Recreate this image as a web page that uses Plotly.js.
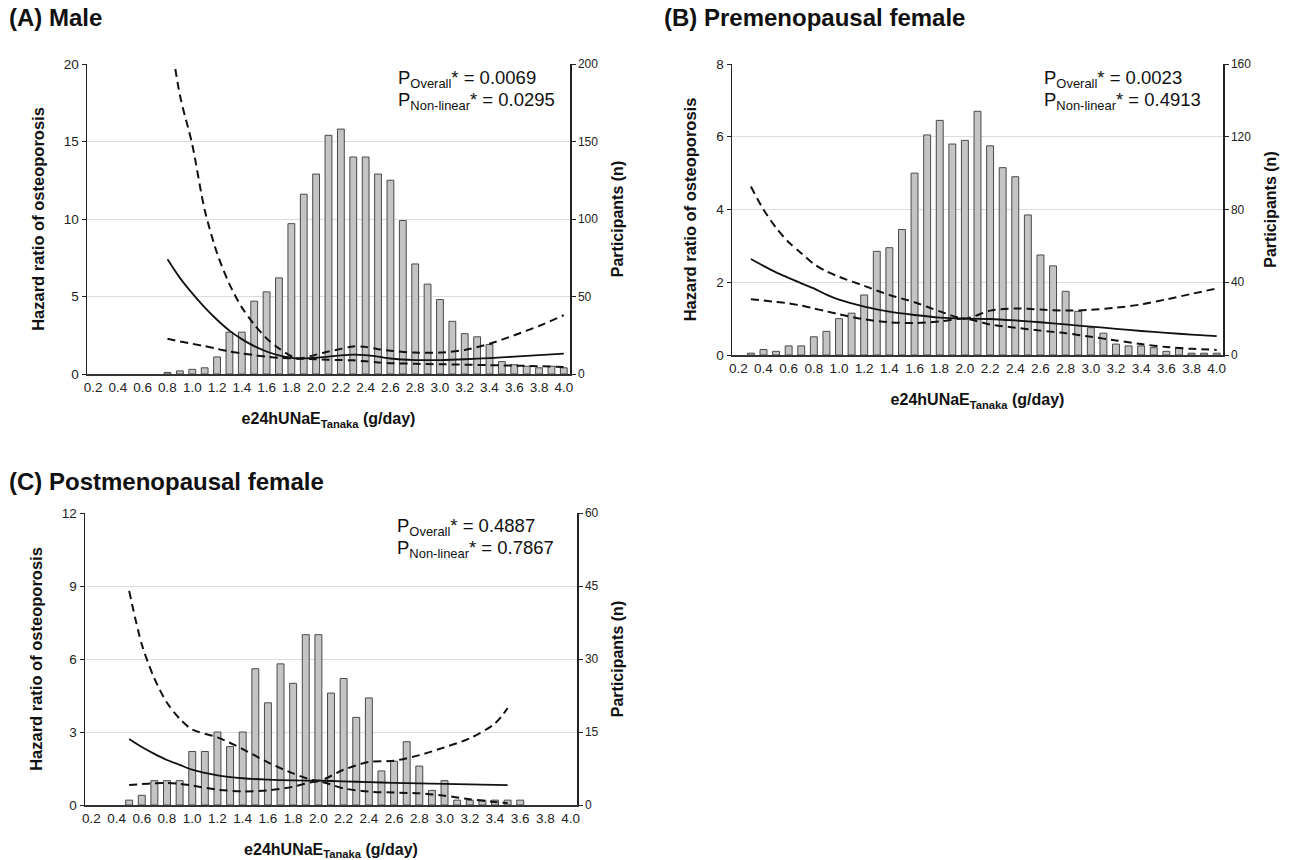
<!DOCTYPE html>
<html>
<head>
<meta charset="utf-8">
<script src="https://cdn.plot.ly/plotly-3.0.1.min.js"></script>
<style>
html,body{margin:0;padding:0;background:#fff;}
#chart{width:1295px;height:860px;}
</style>
</head>
<body>
<div id="chart"></div>
<script>
// ---------- Data ----------
const panelTitles = ["(A) Male", "(B) Premenopausal female", "(C) Postmenopausal female"];
const xTitle = "e24hUNaE<sub>Tanaka</sub> (g/day)";
const yLeftTitle = "Hazard ratio of osteoporosis";
const yRightTitle = "Participants (n)";
const xTickVals = [0.2,0.4,0.6,0.8,1.0,1.2,1.4,1.6,1.8,2.0,2.2,2.4,2.6,2.8,3.0,3.2,3.4,3.6,3.8,4.0];

// Panel A (Male)
const barXA = [0.8,0.9,1.0,1.1,1.2,1.3,1.4,1.5,1.6,1.7,1.8,1.9,2.0,2.1,2.2,2.3,2.4,2.5,2.6,2.7,2.8,2.9,3.0,3.1,3.2,3.3,3.4,3.5,3.6,3.7,3.8,3.9,4.0];
const countsA = [1,2,3,4,11,27,27,47,53,62,97,116,129,154,158,140,140,129,125,99,71,58,48,34,26,24,19,8,6,5,4,5,4];
const lineXA = [0.8,0.9,1.0,1.1,1.2,1.3,1.4,1.5,1.6,1.7,1.85,2.0,2.1,2.2,2.3,2.4,2.5,2.6,2.8,3.0,3.2,3.4,3.6,3.8,4.0];
const hrA    = [7.4,6.2,5.2,4.3,3.5,2.8,2.25,1.8,1.45,1.2,1.0,1.05,1.12,1.2,1.25,1.22,1.12,1.0,0.9,0.9,0.95,1.03,1.12,1.22,1.31];
const upperA = [23,18,14.8,10.6,7.8,5.8,4.3,3.2,2.3,1.65,1.0,1.25,1.45,1.62,1.78,1.75,1.6,1.5,1.38,1.38,1.55,1.95,2.5,3.1,3.8];
const lowerA = [2.28,2.1,1.95,1.8,1.62,1.46,1.33,1.22,1.12,1.05,1.0,0.95,0.92,0.9,0.88,0.82,0.75,0.7,0.66,0.63,0.6,0.57,0.54,0.5,0.45];
const pA = ["P<sub>Overall</sub>* = 0.0069", "P<sub>Non-linear</sub>* = 0.0295"];

// Panel B (Premenopausal female)
const barXB = [0.3,0.4,0.5,0.6,0.7,0.8,0.9,1.0,1.1,1.2,1.3,1.4,1.5,1.6,1.7,1.8,1.9,2.0,2.1,2.2,2.3,2.4,2.5,2.6,2.7,2.8,2.9,3.0,3.1,3.2,3.3,3.4,3.5,3.6,3.7,3.8,3.9,4.0];
const countsB = [1,3,2,5,5,10,13,20,23,33,57,59,69,100,121,129,116,118,134,115,103,98,77,55,49,35,24,15,12,6,5,5,4,2,4,1,1,1];
const lineXB = [0.3,0.4,0.5,0.6,0.7,0.8,0.9,1.0,1.2,1.4,1.6,1.8,2.0,2.2,2.4,2.6,2.8,3.0,3.2,3.4,3.6,3.8,4.0];
const hrB    = [2.64,2.45,2.27,2.12,1.97,1.83,1.66,1.52,1.33,1.19,1.1,1.03,1.0,0.99,0.95,0.9,0.84,0.78,0.72,0.66,0.61,0.56,0.52];
const upperB = [4.63,4.0,3.5,3.1,2.8,2.5,2.3,2.15,1.9,1.65,1.45,1.2,1.0,1.22,1.28,1.25,1.22,1.24,1.3,1.39,1.53,1.68,1.83];
const lowerB = [1.53,1.5,1.46,1.42,1.36,1.28,1.2,1.12,0.98,0.9,0.88,0.92,1.0,0.84,0.75,0.67,0.6,0.5,0.4,0.3,0.22,0.17,0.14];
const pB = ["P<sub>Overall</sub>* = 0.0023", "P<sub>Non-linear</sub>* = 0.4913"];

// Panel C (Postmenopausal female)
const barXC = [0.5,0.6,0.7,0.8,0.9,1.0,1.1,1.2,1.3,1.4,1.5,1.6,1.7,1.8,1.9,2.0,2.1,2.2,2.3,2.4,2.5,2.6,2.7,2.8,2.9,3.0,3.1,3.2,3.3,3.4,3.5,3.6];
const countsC = [1,2,5,5,5,11,11,15,12,15,28,21,29,25,35,35,23,26,18,22,7,9,13,8,3,5,1,1,1,1,1,1];
const lineXC = [0.5,0.6,0.7,0.8,0.9,1.0,1.2,1.4,1.6,1.8,2.0,2.2,2.4,2.6,2.8,3.0,3.2,3.4,3.5];
const hrC    = [2.71,2.38,2.1,1.85,1.65,1.45,1.22,1.1,1.04,1.01,1.0,0.97,0.94,0.91,0.89,0.87,0.85,0.83,0.82];
const upperC = [8.8,6.6,5.2,4.2,3.55,3.1,2.78,2.3,1.75,1.3,1.0,1.45,1.77,1.82,2.05,2.37,2.74,3.35,3.98];
const lowerC = [0.82,0.86,0.89,0.9,0.87,0.8,0.63,0.56,0.6,0.75,0.97,0.68,0.55,0.51,0.48,0.38,0.24,0.12,0.08];
const pC = ["P<sub>Overall</sub>* = 0.4887", "P<sub>Non-linear</sub>* = 0.7867"];

// ---------- Styling / layout ----------
const W = 1295, H = 860;
const FONT = "Liberation Sans, Arial, Helvetica, sans-serif";
const px = v => v / W;
const py = v => 1 - v / H;

const panels = [
  {bx: barXA, bc: countsA, lx: lineXA, hr: hrA, up: upperA, lo: lowerA, p: pA,
   left: 87, right: 570, top: 64, bottom: 374, hrMax: 20, hrStep: 5, nMax: 200, nStep: 50,
   title: panelTitles[0], tX: 7, tY: 18, pX: 396, pY: 79},
  {bx: barXB, bc: countsB, lx: lineXB, hr: hrB, up: upperB, lo: lowerB, p: pB,
   left: 732, right: 1223, top: 64, bottom: 355, hrMax: 8, hrStep: 2, nMax: 160, nStep: 40,
   title: panelTitles[1], tX: 662, tY: 18, pX: 1042, pY: 79},
  {bx: barXC, bc: countsC, lx: lineXC, hr: hrC, up: upperC, lo: lowerC, p: pC,
   left: 85, right: 577, top: 513, bottom: 805, hrMax: 12, hrStep: 3, nMax: 60, nStep: 15,
   title: panelTitles[2], tX: 7, tY: 481, pX: 395, pY: 527}
];

const traces = [];
const layout = {
  width: W, height: H,
  margin: {l: 0, r: 0, t: 0, b: 0},
  paper_bgcolor: "#ffffff", plot_bgcolor: "rgba(0,0,0,0)",
  showlegend: false,
  font: {family: FONT, color: "#1a1a1a", size: 12},
  annotations: []
};

panels.forEach((P, i) => {
  const xa = i === 0 ? "x" : "x" + (i + 1);
  const yBase = "y" + (i === 0 ? "" : (2 * i + 1));
  const yOver = "y" + (2 * i + 2);
  const xKey = i === 0 ? "xaxis" : "xaxis" + (i + 1);
  const yBaseKey = "yaxis" + (i === 0 ? "" : (2 * i + 1));
  const yOverKey = "yaxis" + (2 * i + 2);
  const xd = [px(P.left), px(P.right)];
  const yd = [py(P.bottom), py(P.top)];

  layout[xKey] = {
    domain: xd, anchor: yBase, range: [0.15, 4.05],
    tickvals: xTickVals, tickformat: ".1f", ticks: "", showgrid: false, zeroline: false,
    showline: true, linecolor: "#333", linewidth: 1.5,
    tickfont: {size: 13.5, color: "#222", family: FONT},
    title: {text: xTitle, font: {size: 16, family: FONT, color: "#111", weight: "bold"}, standoff: 19},
    fixedrange: true, automargin: false
  };
  layout[yBaseKey] = {
    domain: yd, anchor: xa, side: "right", range: [0, P.nMax], dtick: P.nStep, tick0: 0,
    showgrid: true, gridcolor: "#dcdcdc", gridwidth: 1, zeroline: false,
    showline: true, linecolor: "#222", linewidth: 1.5, ticks: "outside", ticklen: 4, tickcolor: "#222",
    tickfont: {size: 12, color: "#222", family: FONT},
    title: {text: yRightTitle, font: {size: 16, family: FONT, color: "#111", weight: "bold"}, standoff: 14},
    fixedrange: true, automargin: false
  };
  layout[yOverKey] = {
    overlaying: yBase, anchor: xa, side: "left", range: [0, P.hrMax], dtick: P.hrStep, tick0: 0,
    showgrid: false, zeroline: false,
    showline: true, linecolor: "#222", linewidth: 1.5, ticks: "outside", ticklen: 4, tickcolor: "#222",
    tickfont: {size: 13.5, color: "#222", family: FONT},
    title: {text: yLeftTitle, font: {size: 16.5, family: FONT, color: "#111", weight: "bold"}, standoff: 15},
    fixedrange: true, automargin: false
  };

  traces.push({
    type: "bar", x: P.bx, y: P.bc, xaxis: xa, yaxis: yBase, width: 0.055,
    marker: {color: "#c4c4c4", line: {color: "#4a4a4a", width: 1}},
    hoverinfo: "skip"
  });
  traces.push({
    type: "scatter", mode: "lines", x: P.lx, y: P.up, xaxis: xa, yaxis: yOver,
    line: {color: "#111", width: 2, dash: "8px,5px", shape: "spline", smoothing: 0.8}, hoverinfo: "skip"
  });
  traces.push({
    type: "scatter", mode: "lines", x: P.lx, y: P.lo, xaxis: xa, yaxis: yOver,
    line: {color: "#111", width: 2, dash: "8px,5px", shape: "spline", smoothing: 0.8}, hoverinfo: "skip"
  });
  traces.push({
    type: "scatter", mode: "lines", x: P.lx, y: P.hr, xaxis: xa, yaxis: yOver,
    line: {color: "#111", width: 1.8, shape: "spline", smoothing: 0.8}, hoverinfo: "skip"
  });

  layout.annotations.push({
    xref: "paper", yref: "paper", x: px(P.tX), y: py(P.tY), xanchor: "left", yanchor: "middle",
    text: "<b>" + P.title + "</b>", showarrow: false,
    font: {size: 24, family: FONT, color: "#111"}
  });
  P.p.forEach((t, k) => {
    layout.annotations.push({
      xref: "paper", yref: "paper", x: px(P.pX), y: py(P.pY + 22 * k), xanchor: "left", yanchor: "middle",
      text: t, showarrow: false, font: {size: 18.5, family: FONT, color: "#111"}
    });
  });
});

Plotly.newPlot("chart", traces, layout, {staticPlot: true, displayModeBar: false});
</script>
</body>
</html>
